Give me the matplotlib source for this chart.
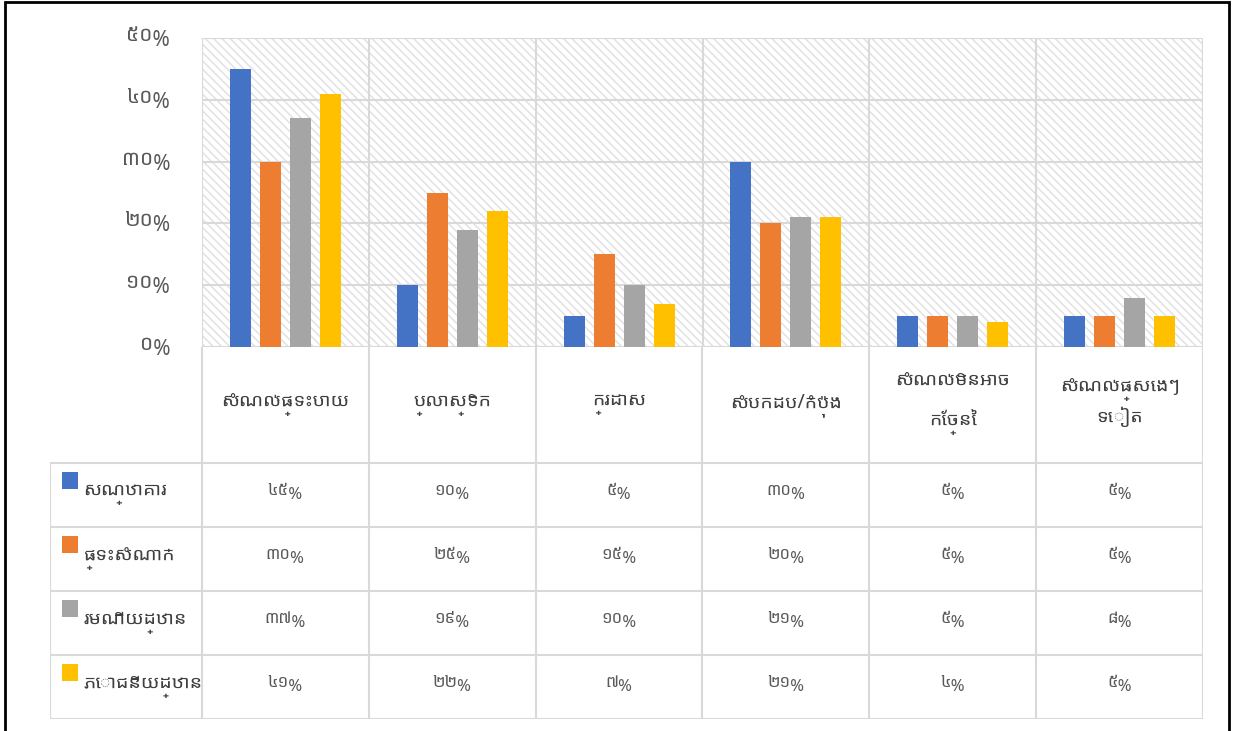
import matplotlib
matplotlib.use("Agg")
import matplotlib.pyplot as plt
from matplotlib.patches import Rectangle
import numpy as np

# data
categories = ["សំណល់ផ្ទះបាយ", "ប្លាស្ទិក", "ក្រដាស", "សំបកដប/កំប៉ុង",
              "សំណល់មិនអាច\nកែច្នៃ", "សំណល់ផ្សេងៗ\nទៀត"]
series_names = ["សណ្ឋាគារ", "ផ្ទះសំណាក់", "រមណីយដ្ឋាន", "ភោជនីយដ្ឋាន"]
hotel = [45, 10, 5, 30, 5, 5]
guesthouse = [30, 25, 15, 20, 5, 5]
resort = [37, 19, 10, 21, 5, 8]
restaurant = [41, 22, 7, 21, 4, 5]
yticks = [0, 10, 20, 30, 40, 50]

series = [hotel, guesthouse, resort, restaurant]
colors = ["#4472C4", "#ED7D31", "#A5A5A5", "#FFC000"]

plt.rcParams["font.family"] = ["Noto Sans Khmer UI", "Noto Sans", "DejaVu Sans"]
plt.rcParams["hatch.color"] = "#e2e2e2"
plt.rcParams["hatch.linewidth"] = 1.1

kh_digits = str.maketrans("0123456789", "០១២៣៤៥៦៧៨៩")
def kh(v):
    return (str(v) + "%").translate(kh_digits)

W, H = 1233, 731
fig = plt.figure(figsize=(W / 100, H / 100), dpi=100)

def px_axes(x0, y0, x1, y1):
    return fig.add_axes([x0 / W, 1 - y1 / H, (x1 - x0) / W, (y1 - y0) / H])

grid_c = "#d9d9d9"
text_c = "#595959"

# bar area
left, right, top, base = 202, 1203, 38, 347
ax = px_axes(left, top, right, base)
ax.set_xlim(0, 6)
ax.set_ylim(0, 50)
ax.add_patch(Rectangle((0, 0), 6, 50, facecolor="white", edgecolor="#e2e2e2",
                       lw=0, hatch="\\\\\\\\", zorder=0))
x = np.arange(len(categories)) + 0.5
bw = 21 / 167
step = 30 / 167
for i, (vals, c) in enumerate(zip(series, colors)):
    ax.bar(x + (i - 1.5) * step, vals, width=bw, color=c, zorder=3)
for y in yticks:
    ax.axhline(y, color=grid_c, lw=1.5, zorder=1)
for xv in range(7):
    ax.axvline(xv, color=grid_c, lw=1.5, zorder=1)
ax.set_xticks([])
ax.set_yticks(yticks)
ax.set_yticklabels([kh(v) for v in yticks], fontsize=15, color=text_c)
ax.tick_params(axis="y", length=0, pad=23)
for s in ax.spines.values():
    s.set_visible(False)

# data table under the bars
legw = 152 / 167
cat_h = 116 / 64
tab = px_axes(50, base, right, 719)
tab.set_xlim(-legw, 6)
tab.set_ylim(cat_h + 4, 0)
tab.axis("off")
for xv in range(7):
    tab.plot([xv, xv], [0, cat_h + 4], color=grid_c, lw=1.5)
tab.plot([-legw, -legw], [cat_h, cat_h + 4], color=grid_c, lw=1.5)
for r in range(5):
    tab.plot([-legw, 6], [cat_h + r, cat_h + r], color=grid_c, lw=1.5)
for j, name in enumerate(categories):
    tab.text(j + 0.5, cat_h / 2, name, ha="center", va="center",
             fontsize=14, color="#404040", linespacing=1.7)
for i, (name, vals, c) in enumerate(zip(series_names, series, colors)):
    yc = cat_h + i + 0.5
    tab.add_patch(Rectangle((-legw + 0.07, yc - 0.36), 0.1, 0.27,
                            facecolor=c, edgecolor="none"))
    tab.text(-legw + 0.2, yc, name, ha="left", va="center", fontsize=14,
             color="#404040")
    for j, v in enumerate(vals):
        tab.text(j + 0.5, yc, kh(v), ha="center", va="center", fontsize=12,
                 color=text_c)

# outer frame
fig.add_artist(Rectangle((5 / W, -0.01), 1224 / W, 1 - 2 / H + 0.01,
                         transform=fig.transFigure, fill=False,
                         edgecolor="black", lw=2))

fig.savefig("out.png", dpi=100)
